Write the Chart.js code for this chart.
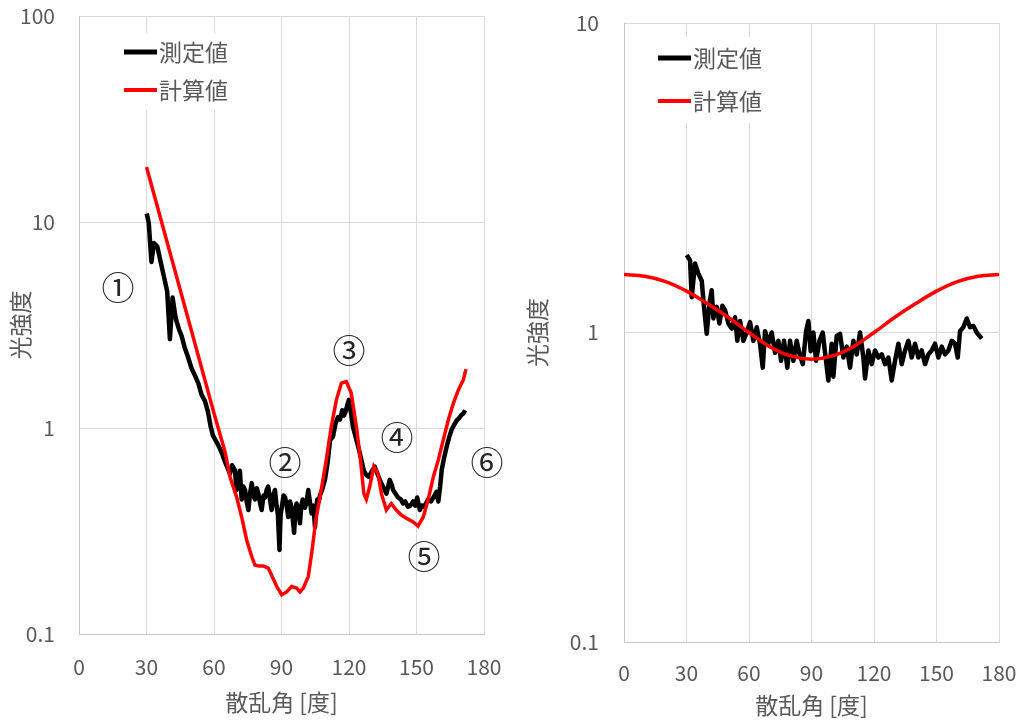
<!DOCTYPE html>
<html>
<head>
<meta charset="utf-8">
<script src="https://cdn.jsdelivr.net/npm/chart.js@4.4.0/dist/chart.umd.min.js"></script>
<style>
  body { margin: 0; background: #fff; }
  #wrap { position: relative; width: 1023px; height: 721px; }
  #izq { position: absolute; left: 0; top: 0; }
  #der { position: absolute; left: 510px; top: 0; }
</style>
</head>
<body>
<div id="wrap">
  <canvas id="izq" width="510" height="721"></canvas>
  <canvas id="der" width="513" height="721"></canvas>
</div>
<script>
const FUENTE = "'Noto Sans CJK JP', 'Noto Sans', sans-serif";
const GRIS = '#595959';

// series names and colours
const nombres = ['測定値', '計算値'];
const colores = ['#000000', '#ff0000'];
const ticksX = [0, 30, 60, 90, 120, 150, 180];

// left chart: measured (angle, value)
const angMedIzq = [30.1, 31.0, 32.2, 33.3, 34.8, 36.3, 37.8, 39.2, 40.4, 41.6, 43.0, 44.5, 45.6, 47.0, 48.5,
  50.0, 51.5, 53.0, 54.5, 56.0, 57.3, 58.5, 59.5, 61.0, 62.5, 63.8, 65.0, 66.0, 67.1, 68.0, 69.3, 70.0,
  70.8, 71.5, 72.3, 73.0, 73.8, 74.5, 75.3, 76.0, 76.8, 77.5, 78.2, 79.0, 79.7, 80.5, 81.2, 82.0, 82.7,
  83.4, 84.1, 84.9, 85.6, 86.3, 87.1, 87.8, 88.4, 89.1, 89.6, 90.1, 90.9, 91.6, 92.3, 93.0, 93.8, 94.5,
  95.0, 95.6, 96.2, 96.7, 97.5, 98.2, 98.8, 99.4, 100.4, 101.2, 101.9, 102.6, 103.4, 104.2, 104.9, 105.4,
  105.9, 106.5, 107.1, 108.0, 109.3, 110.5, 111.6, 112.9, 114.0, 115.1, 116.0, 117.0, 117.8, 118.5, 119.3,
  120.0, 120.8, 121.8, 123.3, 124.5, 125.5, 126.6, 127.7, 128.8, 129.9, 131.4, 132.9, 134.0, 135.1, 136.6,
  137.4, 138.1, 139.0, 139.6, 140.7, 141.8, 143.0, 144.0, 145.0, 146.2, 147.3, 148.5, 149.4, 150.3, 151.5,
  152.4, 153.2, 154.2, 155.2, 156.4, 157.5, 158.9, 159.7, 160.5, 161.2, 162.3, 163.4, 164.5, 165.6, 166.8,
  167.9, 169.0, 170.1, 170.9, 171.6];
const valMedIzq = [11.0, 9.9, 6.4, 7.9, 7.6, 6.4, 5.4, 4.6, 2.7, 4.3, 3.4, 3.0, 2.8, 2.45, 2.2,
  1.95, 1.8, 1.65, 1.45, 1.35, 1.2, 1.02, 0.92, 0.86, 0.8, 0.74, 0.68, 0.64, 0.60, 0.66, 0.625, 0.50,
  0.56, 0.62, 0.45, 0.52, 0.50, 0.44, 0.40, 0.48, 0.54, 0.47, 0.45, 0.51, 0.48, 0.43, 0.40, 0.47, 0.46,
  0.50, 0.52, 0.45, 0.40, 0.47, 0.50, 0.42, 0.38, 0.256, 0.38, 0.41, 0.47, 0.46, 0.42, 0.37, 0.44, 0.41,
  0.36, 0.31, 0.40, 0.43, 0.40, 0.345, 0.42, 0.45, 0.41, 0.44, 0.50, 0.44, 0.385, 0.42, 0.33, 0.40,
  0.45, 0.44, 0.47, 0.50, 0.56, 0.68, 0.875, 0.91, 1.05, 1.13, 1.1, 1.22, 1.15, 1.2, 1.3,
  1.37, 1.2, 1.01, 0.875, 0.78, 0.70, 0.62, 0.59, 0.58, 0.61, 0.65, 0.59, 0.55, 0.52, 0.48,
  0.52, 0.56, 0.53, 0.50, 0.48, 0.46, 0.45, 0.43, 0.44, 0.415, 0.42, 0.44, 0.42, 0.46, 0.40,
  0.42, 0.415, 0.43, 0.45, 0.44, 0.46, 0.49, 0.44, 0.52, 0.625, 0.72, 0.81, 0.90, 0.98, 1.04,
  1.09, 1.12, 1.16, 1.18, 1.22];

// left chart: calculated
const angCalIzq = [30, 40, 50, 60, 65, 67.1, 70.1, 72.3, 74.5, 76.8, 78.2, 80, 81.9, 84.1, 85.6, 87.9,
  90.1, 92.3, 94.5, 96.7, 98.2, 99.7, 101.9, 103.4, 105.3, 107.1, 109.9, 112.1, 114.4, 116.6, 118.8,
  121.0, 123.3, 125.1, 126.6, 127.7, 129.2, 131.0, 132.9, 134.4, 136.6, 138.8, 141.0, 143.3, 145.5,
  148.5, 150.7, 153.0, 155.2, 157.5, 159.7, 161.9, 164.1, 166.4, 168.6, 170.8, 172.0];
const valCalIzq = [18.5, 7.4, 2.96, 1.18, 0.76, 0.58, 0.46, 0.37, 0.286, 0.237, 0.216, 0.214, 0.214, 0.209, 0.193, 0.17,
  0.155, 0.16, 0.17, 0.167, 0.16, 0.167, 0.19, 0.246, 0.36, 0.46, 0.70, 1.01, 1.37, 1.65, 1.68,
  1.48, 1.01, 0.70, 0.48, 0.45, 0.52, 0.65, 0.60, 0.48, 0.40, 0.43, 0.40, 0.378, 0.365,
  0.35, 0.334, 0.37, 0.45, 0.58, 0.70, 0.875, 1.09, 1.32, 1.53, 1.71, 1.93];
const ticksYIzq = [0.1, 1, 10, 100];

// circled markers on the left chart
const notasTxt = ['①', '②', '③', '④', '⑤', '⑥'];
const notasAng = [17.3, 91.6, 120, 141.3, 153.3, 181.3];
const notasVal = [4.8, 0.68, 2.39, 0.90, 0.237, 0.68];

// right chart: measured
const angMedDer = [30.1, 31.7, 32.5, 34.1, 35.7, 37.3, 38.4, 39.7, 41.0, 42.1, 42.9, 44.5, 45.8, 47.2, 48.5,
  50.1, 51.7, 53.3, 54.4, 55.7, 57.3, 58.9, 60.5, 62.1, 63.7, 65.3, 66.6, 67.7, 69.3, 70.9, 72.5, 74.1,
  75.4, 76.8, 78.4, 79.7, 81.3, 82.9, 84.1, 85.8, 87.4, 88.5, 89.6, 90.9, 92.2, 93.8, 95.4, 96.5, 98.1,
  99.7, 100.5, 102.1, 103.7, 105.3, 106.9, 108.5, 110.1, 111.7, 113.3, 114.9, 115.7, 117.3, 118.9, 120.5,
  122.1, 123.7, 125.3, 126.9, 128.5, 130.1, 131.7, 133.3, 134.9, 136.5, 138.1, 139.7, 141.3, 142.9, 144.5,
  146.1, 147.7, 149.3, 150.9, 152.5, 154.1, 155.7, 157.3, 158.9, 160.2, 161.3, 162.9, 164.5, 166.1, 167.7,
  169.3, 171.7];
const valMedDer = [1.78, 1.71, 1.30, 1.67, 1.55, 1.47, 1.21, 0.99, 1.24, 1.37, 1.11, 1.21, 1.07, 1.22, 1.18,
  1.07, 1.03, 1.12, 0.94, 1.09, 0.94, 1.0, 1.08, 0.94, 1.04, 0.92, 0.77, 1.01, 0.92, 1.0, 0.86, 0.94,
  0.81, 0.94, 0.77, 0.94, 0.81, 0.94, 0.86, 0.79, 1.01, 1.09, 0.87, 1.0, 0.81, 0.94, 1.0, 0.86, 0.70,
  0.92, 0.72, 0.975, 0.99, 0.83, 0.9, 0.77, 0.94, 0.85, 1.0, 0.83, 0.71, 0.875, 0.79, 0.875,
  0.83, 0.85, 0.79, 0.83, 0.70, 0.81, 0.92, 0.79, 0.875, 0.94, 0.83, 0.92, 0.83, 0.875, 0.79,
  0.85, 0.875, 0.92, 0.83, 0.9, 0.85, 0.875, 0.94, 0.92, 0.83, 1.01, 1.04, 1.11, 1.04, 1.05,
  1.0, 0.955];

// right chart: calculated
const angCalDer = [0, 10, 20, 30, 40, 50, 60, 70, 80, 90, 100, 110, 120, 130, 140, 150, 160, 170, 180];
const valCalDer = [1.54, 1.52, 1.46, 1.36, 1.24, 1.12, 1.00, 0.90, 0.84, 0.82, 0.84, 0.90, 1.00, 1.12, 1.24, 1.36, 1.46, 1.52, 1.54];
const ticksYDer = [0.1, 1, 10];

//Legend drawn inside the plot, over the grid
const leyenda = {
  id: 'leyenda',
  beforeDatasetsDraw(chart, args, o) {
    const ctx = chart.ctx;
    ctx.save();
    ctx.fillStyle = '#fff';
    ctx.fillRect(o.x - 10, o.arriba, 130, o.alto);
    ctx.font = '23px ' + FUENTE;
    ctx.textBaseline = 'middle';
    nombres.forEach((n, i) => {
      const y = o.y + i * o.paso;
      ctx.strokeStyle = colores[i];
      ctx.lineWidth = i === 0 ? 5 : 4;
      ctx.beginPath();
      ctx.moveTo(o.x, y);
      ctx.lineTo(o.x + 33, y);
      ctx.stroke();
      ctx.fillStyle = GRIS;
      ctx.fillText(n, o.x + 35, y);
    });
    ctx.restore();
  }
};

//Circled numbers placed in data coordinates
const notas = {
  id: 'notas',
  afterDraw(chart, args, o) {
    if (!o.textos) return;
    const ctx = chart.ctx;
    const sx = chart.scales.x, sy = chart.scales.y;
    ctx.save();
    ctx.font = '33px ' + FUENTE;
    ctx.fillStyle = '#262626';
    ctx.textAlign = 'center';
    ctx.textBaseline = 'middle';
    o.textos.forEach((t, i) => {
      ctx.fillText(t, sx.getPixelForValue(o.ang[i]), sy.getPixelForValue(o.val[i]));
    });
    ctx.restore();
  }
};

function puntos(xs, ys) {
  return xs.map((x, i) => ({ x: x, y: ys[i] }));
}

function crearGrafica(id, c) {
  return new Chart(document.getElementById(id), {
    type: 'line',
    data: {
      datasets: [
        { label: nombres[0], data: puntos(c.angMed, c.valMed), borderColor: colores[0], borderWidth: 4.5,
          pointRadius: 0, borderJoinStyle: 'round', order: 2 },
        { label: nombres[1], data: puntos(c.angCal, c.valCal), borderColor: colores[1], borderWidth: 3.5,
          pointRadius: 0, cubicInterpolationMode: c.suave ? 'monotone' : 'default', order: 1 }
      ]
    },
    plugins: [leyenda, notas],
    options: {
      responsive: false,
      animation: false,
      layout: { padding: { left: 0, right: c.padDer, top: c.padSup, bottom: 0 } },
      plugins: {
        legend: { display: false },
        tooltip: { enabled: false },
        leyenda: c.leyenda,
        notas: c.notas || {}
      },
      scales: {
        x: {
          type: 'linear', min: 0, max: 180,
          afterBuildTicks: s => { s.ticks = ticksX.map(v => ({ value: v })); },
          afterFit: s => { s.height = c.altoX; },
          // invisible tick marks keep the label gap without extra layout padding
          grid: { color: '#d9d9d9', drawTicks: true, tickLength: c.gapX, tickColor: 'rgba(0,0,0,0)' },
          border: { color: '#c8c8c8' },
          ticks: { color: GRIS, font: { family: FUENTE, size: 21 }, padding: 2, maxRotation: 0 },
          title: { display: true, text: '散乱角 [度]', color: GRIS, font: { family: FUENTE, size: 23 },
            padding: { top: 0, bottom: c.padTitX } }
        },
        y: {
          type: 'logarithmic', min: c.ticksY[0], max: c.ticksY[c.ticksY.length - 1],
          afterBuildTicks: s => { s.ticks = c.ticksY.map(v => ({ value: v })); },
          afterFit: s => { s.width = c.anchoY; },
          grid: { color: '#d9d9d9', drawTicks: true, tickLength: c.gapY, tickColor: 'rgba(0,0,0,0)' },
          border: { color: '#c8c8c8' },
          ticks: { color: GRIS, font: { family: FUENTE, size: 21 }, padding: 2,
            callback: v => String(v) },
          title: { display: true, text: '光強度', color: GRIS, font: { family: FUENTE, size: 23 },
            padding: { top: c.padTitY, bottom: 0 } }
        }
      }
    }
  });
}

crearGrafica('izq', {
  angMed: angMedIzq, valMed: valMedIzq, angCal: angCalIzq, valCal: valCalIzq,
  ticksY: ticksYIzq, suave: false,
  padDer: 26, padSup: 16, altoX: 87, anchoY: 79,
  gapX: 18, padTitX: 5, gapY: 22, padTitY: 6,
  leyenda: { x: 124, y: 52, paso: 38, arriba: 33, alto: 77 },
  notas: { textos: notasTxt, ang: notasAng, val: notasVal }
});

crearGrafica('der', {
  angMed: angMedDer, valMed: valMedDer, angCal: angCalDer, valCal: valCalDer,
  ticksY: ticksYDer, suave: true,
  padDer: 24, padSup: 23, altoX: 79, anchoY: 114,
  gapX: 16, padTitX: 2, gapY: 23, padTitY: 13,
  leyenda: { x: 148, y: 58, paso: 43, arriba: 37, alto: 86 }
});
</script>
</body>
</html>
